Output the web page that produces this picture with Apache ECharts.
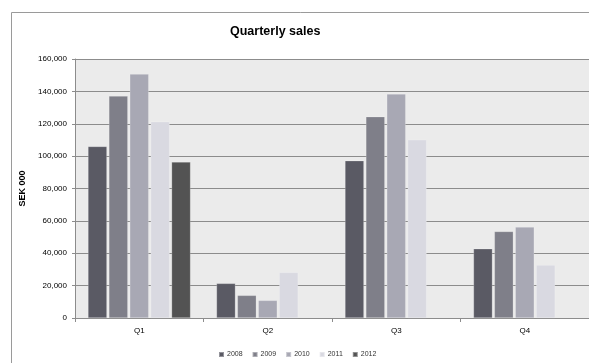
<!DOCTYPE html>
<html><head><meta charset="utf-8">
<script src="https://cdn.jsdelivr.net/npm/echarts@6/dist/echarts.min.js"></script>
<style>html,body{margin:0;padding:0;background:#fff}#c{width:589px;height:363px}</style>
</head><body><div id="c"></div>
<script>
var categories = ['Q1', 'Q2', 'Q3', 'Q4'];
var years = ['2008', '2009', '2010', '2011', '2012'];
var s2008 = [106000, 21400, 97200, 42800];
var s2009 = [137100, 14000, 124400, 53500];
var s2010 = [150700, 10900, 138400, 56200];
var s2011 = [121300, 28200, 110100, 32700];
var s2012 = [96400, null, null, null];
var yTicks = [0, 20000, 40000, 60000, 80000, 100000, 120000, 140000, 160000];
var colors = ['#5a5a64', '#7f7f89', '#a8a8b4', '#d9d9e1', '#535353'];
var seriesData = [s2008, s2009, s2010, s2011, s2012];

var chart = echarts.init(document.getElementById('c'));
var font = 'Liberation Sans';
chart.setOption({
  animation: false,
  color: colors,
  title: {
    text: 'Quarterly sales', left: 230, top: 25, padding: 0,
    textStyle: { fontFamily: font, fontSize: 12.5, fontWeight: 'bold', color: '#000' }
  },
  graphic: [{
    type: 'rect', shape: { x: 11.5, y: 12.5, width: 700, height: 500 },
    style: { fill: 'none', stroke: '#9a9a9a', lineWidth: 1 }, z: -10
  }],
  legend: {
    left: 213, top: 346, itemWidth: 5, itemHeight: 5, itemGap: 9,
    icon: 'rect',
    textStyle: { fontFamily: font, fontSize: 7, color: '#333', padding: [0, 0, 0, -2] },
    data: years
  },
  grid: { left: 75, right: -7, top: 59, bottom: 45, show: true, backgroundColor: '#ebebeb', borderWidth: 0 },
  xAxis: {
    type: 'category', data: categories,
    axisLine: { lineStyle: { color: '#8c8c8c', width: 1 } },
    axisTick: { show: true, length: 4, lineStyle: { color: '#8c8c8c' } },
    axisLabel: { fontFamily: font, fontSize: 8, color: '#000', margin: 9 }
  },
  yAxis: {
    type: 'value', min: 0, max: 160000, interval: 20000,
    name: 'SEK 000', nameLocation: 'middle', nameGap: 48,
    nameTextStyle: { fontFamily: font, fontSize: 9, fontWeight: 'bold', color: '#000' },
    axisLine: { show: true, lineStyle: { color: '#8c8c8c' } },
    axisTick: { show: true, length: 3, lineStyle: { color: '#8c8c8c' } },
    splitLine: { lineStyle: { color: '#8c8c8c', width: 1 } },
    axisLabel: {
      fontFamily: font, fontSize: 8, color: '#000', margin: 8,
      formatter: function (v) { return yTicks.indexOf(v) >= 0 ? v.toLocaleString('en-US') : ''; }
    }
  },
  series: years.map(function (y, i) {
    return {
      name: y, type: 'bar', data: seriesData[i], barWidth: 19, barGap: '10%',
      itemStyle: { color: colors[i], borderColor: 'rgba(255,255,255,0.35)', borderWidth: 0.6 }
    };
  })
});
</script></body></html>
